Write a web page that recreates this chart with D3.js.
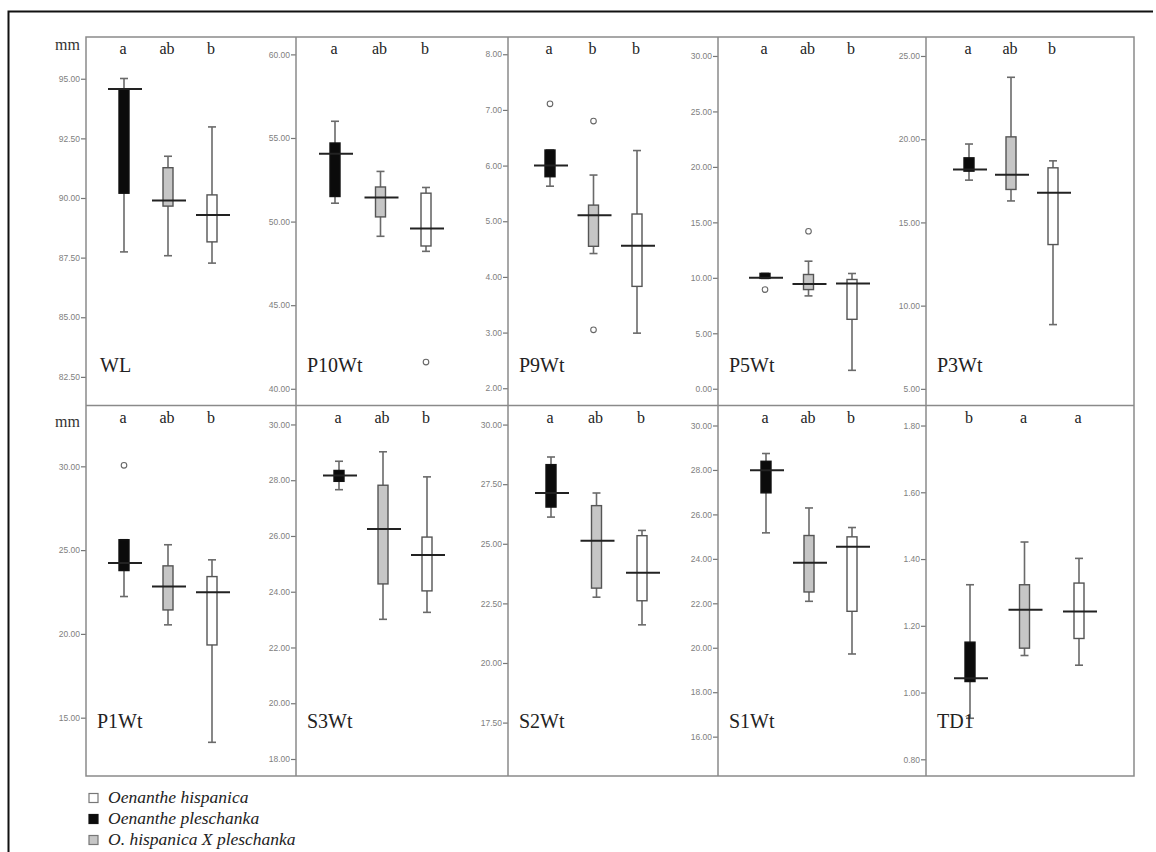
<!DOCTYPE html>
<html>
<head>
<meta charset="utf-8">
<script src="https://cdn.jsdelivr.net/npm/d3@7"></script>
<style>
  body { margin: 0; background: #fff; }
  svg { display: block; }
  .tick text { font-family: "Liberation Sans", Arial, sans-serif; font-size: 8.5px; fill: #808080; }
  .tick line { stroke: #777; stroke-width: 1.2; }
</style>
</head>
<body>
<div id="chart"></div>
<script>
// variables (panels), in reading order
const panels = ["WL", "P10Wt", "P9Wt", "P5Wt", "P3Wt", "P1Wt", "S3Wt", "S2Wt", "S1Wt", "TD1"];
// groups drawn left to right inside each panel
const groups = ["Oenanthe pleschanka", "O. hispanica X pleschanka", "Oenanthe hispanica"];

// significance letters above each box
const letters = [
  ["a", "ab", "b"], ["a", "ab", "b"], ["a", "b", "b"], ["a", "ab", "b"], ["a", "ab", "b"],
  ["a", "ab", "b"], ["a", "ab", "b"], ["a", "ab", "b"], ["a", "ab", "b"], ["b", "a", "a"]
];

// y axis extent and tick labels per panel
const yDomains = [
  [81.3, 96.75], [39.0, 61.04], [1.69, 8.31], [-1.51, 31.71], [4.0, 26.14],
  [11.52, 33.63], [17.39, 30.68], [15.26, 30.8], [14.23, 30.9], [0.75, 1.86]
];
const yTicks = [
  [82.5, 85, 87.5, 90, 92.5, 95],
  [40, 45, 50, 55, 60],
  [2, 3, 4, 5, 6, 7, 8],
  [0, 5, 10, 15, 20, 25, 30],
  [5, 10, 15, 20, 25],
  [15, 20, 25, 30],
  [18, 20, 22, 24, 26, 28, 30],
  [17.5, 20, 22.5, 25, 27.5, 30],
  [16, 18, 20, 22, 24, 26, 28, 30],
  [0.8, 1.0, 1.2, 1.4, 1.6, 1.8]
];

// box stats per panel: [min, q1, median, q3, max] for pleschanka, hybrid, hispanica
const pleschanka = [
  [87.74, 90.2, 94.57, 94.57, 95.01],
  [51.1, 51.5, 54.05, 54.7, 56.0],
  [5.63, 5.8, 6.0, 6.28, 6.28],
  [9.95, 9.95, 10.0, 10.4, 10.4],
  [17.54, 18.08, 18.18, 18.88, 19.71],
  [22.23, 23.78, 24.23, 25.62, 25.62],
  [27.66, 27.96, 28.17, 28.35, 28.68],
  [26.12, 26.54, 27.13, 28.32, 28.64],
  [25.17, 26.97, 27.99, 28.39, 28.74],
  [0.923, 1.033, 1.043, 1.151, 1.323]
];
const hybrid = [
  [87.58, 89.66, 89.9, 91.27, 91.75],
  [49.12, 50.28, 51.44, 52.07, 53.0],
  [4.42, 4.55, 5.11, 5.29, 5.83],
  [8.37, 8.94, 9.45, 10.3, 11.5],
  [16.29, 16.98, 17.86, 20.14, 23.72],
  [20.54, 21.43, 22.83, 24.06, 25.32],
  [23.01, 24.28, 26.25, 27.82, 29.02],
  [22.76, 23.14, 25.13, 26.6, 27.13],
  [22.09, 22.51, 23.83, 25.05, 26.29],
  [1.111, 1.133, 1.248, 1.323, 1.451]
];
const hispanica = [
  [87.27, 88.16, 89.29, 90.13, 92.98],
  [48.22, 48.54, 49.58, 51.7, 52.04],
  [2.99, 3.83, 4.56, 5.13, 6.27],
  [1.66, 6.26, 9.49, 9.85, 10.39],
  [8.86, 13.67, 16.78, 18.28, 18.7],
  [13.53, 19.34, 22.49, 23.42, 24.42],
  [23.26, 24.03, 25.32, 25.96, 28.12],
  [21.6, 22.61, 23.79, 25.34, 25.56],
  [19.72, 21.64, 24.54, 24.99, 25.41],
  [1.082, 1.162, 1.243, 1.328, 1.402]
];

// outliers per panel, same group order
const outliers = [
  [[], [], []],
  [[], [], [41.6]],
  [[7.11], [6.8, 3.05], []],
  [[8.94], [14.2], []],
  [[], [], []],
  [[30.06], [], []],
  [[], [], []],
  [[], [], []],
  [[], [], []],
  [[], [], []]
];

const legendItems = ["Oenanthe hispanica", "Oenanthe pleschanka", "O. hispanica X pleschanka"];

// ---- layout ----
const width = 1156, height = 852;
const colEdges = [86, 296, 508, 718, 926, 1134];
const rowEdges = [37, 405.5, 776];
// where the first and last box sit inside each panel (px from panel left)
const groupRange = [
  [38, 126], [39, 130], [42, 129], [47, 134], [43, 127],
  [38, 126], [43, 131], [43, 134], [48, 134], [44, 153]
];
const fills = { "Oenanthe pleschanka": "#0b0b0b", "O. hispanica X pleschanka": "#c6c6c6", "Oenanthe hispanica": "#ffffff" };
const boxW = 10, capW = 8, medW = 34;

const svg = d3.select('#chart').append('svg')
  .attr('width', width)
  .attr('height', height);

// page frame (scan border)
svg.append('path')
  .attr('d', `M8.5,${height} V11.5 H1153`)
  .attr('fill', 'none')
  .attr('stroke', '#111')
  .attr('stroke-width', 2);

const series = [pleschanka, hybrid, hispanica];

panels.forEach((name, i) => {
  const row = Math.floor(i / 5), col = i % 5;
  const x0 = colEdges[col], x1 = colEdges[col + 1];
  const top = rowEdges[row], bottom = rowEdges[row + 1];

  const y = d3.scaleLinear().domain(yDomains[i]).range([bottom, top]);
  const x = d3.scalePoint().domain(groups).range([x0 + groupRange[i][0], x0 + groupRange[i][1]]);

  const g = svg.append('g');

  // y axis sits on the panel's left border, ticks outside
  const axis = g.append('g')
    .attr('transform', `translate(${x0},0)`)
    .call(d3.axisLeft(y).tickValues(yTicks[i]).tickFormat(d3.format('.2f')).tickSize(5).tickPadding(1));
  axis.select('.domain').remove();

  groups.forEach((grp, k) => {
    const s = series[k][i];
    const cx = x(grp);

    // whisker
    g.append('line')
      .attr('x1', cx).attr('x2', cx)
      .attr('y1', y(s[0])).attr('y2', y(s[4]))
      .attr('stroke', '#6a6a6a').attr('stroke-width', 1.6);
    [s[0], s[4]].forEach(v => {
      g.append('line')
        .attr('x1', cx - capW / 2).attr('x2', cx + capW / 2)
        .attr('y1', y(v)).attr('y2', y(v))
        .attr('stroke', '#6a6a6a').attr('stroke-width', 1.6);
    });

    // box
    g.append('rect')
      .attr('x', cx - boxW / 2)
      .attr('y', y(s[3]))
      .attr('width', boxW)
      .attr('height', Math.max(1, y(s[1]) - y(s[3])))
      .attr('fill', fills[grp])
      .attr('stroke', k === 0 ? '#111' : '#555')
      .attr('stroke-width', 1.4);

    // median bar
    g.append('line')
      .attr('x1', cx - medW / 2 + 1).attr('x2', cx + medW / 2 + 1)
      .attr('y1', y(s[2])).attr('y2', y(s[2]))
      .attr('stroke', '#222').attr('stroke-width', 2);

    // outliers
    outliers[i][k].forEach(v => {
      g.append('circle')
        .attr('cx', cx).attr('cy', y(v)).attr('r', 2.8)
        .attr('fill', '#fff').attr('stroke', '#666').attr('stroke-width', 1.1);
    });

    // significance letter
    g.append('text')
      .attr('x', cx - 1)
      .attr('y', top + 17)
      .attr('text-anchor', 'middle')
      .style('font-family', '"Liberation Serif", "Times New Roman", serif')
      .style('font-size', '16px')
      .style('fill', '#222')
      .text(letters[i][k]);
  });

  // variable name
  g.append('text')
    .attr('x', x0 + (i === 0 ? 14 : 11))
    .attr('y', row === 0 ? top + 335 : top + 322)
    .style('font-family', '"Liberation Serif", "Times New Roman", serif')
    .style('font-size', '20px')
    .style('fill', '#222')
    .text(name);
});

// panel grid
const grid = svg.append('g')
  .attr('fill', 'none')
  .attr('stroke', '#8a8a8a')
  .attr('stroke-width', 1.5);
grid.append('rect')
  .attr('x', colEdges[0]).attr('y', rowEdges[0])
  .attr('width', colEdges[5] - colEdges[0])
  .attr('height', rowEdges[2] - rowEdges[0]);
grid.append('line')
  .attr('x1', colEdges[0]).attr('x2', colEdges[5])
  .attr('y1', rowEdges[1]).attr('y2', rowEdges[1]);
colEdges.slice(1, 5).forEach(cx => {
  grid.append('line')
    .attr('x1', cx).attr('x2', cx)
    .attr('y1', rowEdges[0]).attr('y2', rowEdges[2]);
});

// "mm" unit labels
[50, 427].forEach(yy => {
  svg.append('text')
    .attr('x', 55).attr('y', yy)
    .style('font-family', '"Liberation Serif", "Times New Roman", serif')
    .style('font-size', '16px')
    .style('fill', '#333')
    .text('mm');
});

// legend
const legendFill = { "Oenanthe hispanica": "#ffffff", "Oenanthe pleschanka": "#0b0b0b", "O. hispanica X pleschanka": "#c6c6c6" };
const legend = svg.append('g');
legendItems.forEach((item, j) => {
  const cy = 798 + j * 21;
  legend.append('rect')
    .attr('x', 89).attr('y', cy - 4.5)
    .attr('width', 9).attr('height', 9)
    .attr('fill', legendFill[item])
    .attr('stroke', j === 1 ? '#111' : '#777')
    .attr('stroke-width', 1.2);
  legend.append('text')
    .attr('x', 108).attr('y', cy + 5)
    .style('font-family', '"Liberation Serif", "Times New Roman", serif')
    .style('font-style', 'italic')
    .style('font-size', '17.5px')
    .style('fill', '#222')
    .text(item);
});
</script>
</body>
</html>
